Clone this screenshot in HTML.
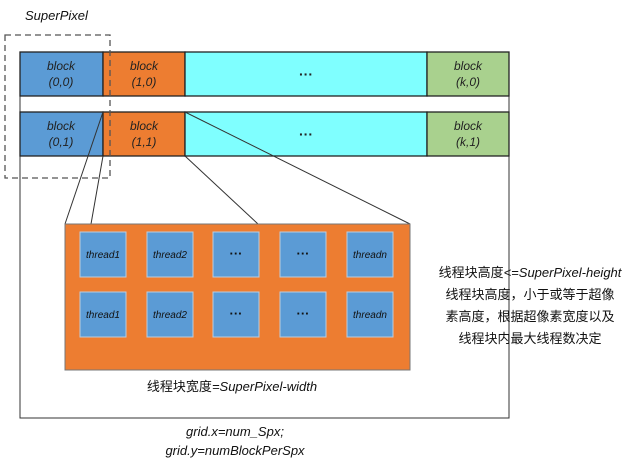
<!DOCTYPE html><html><head><style>body{margin:0;background:#fff}svg text{font-family:"Liberation Sans","Noto Sans CJK SC",sans-serif;font-style:italic}.d{font-weight:bold;font-style:normal}.n{font-style:normal}</style></head><body>
<svg width="643" height="468" xmlns="http://www.w3.org/2000/svg">
<rect x="20" y="52" width="489" height="366" fill="#fff" stroke="#333"/>
<g stroke="#222" stroke-width="1.3">
<rect x="20" y="52" width="83" height="44" fill="#5b9bd5"/><rect x="103" y="52" width="82" height="44" fill="#ed7d31"/><rect x="185" y="52" width="242" height="44" fill="#7fffff"/><rect x="427" y="52" width="82" height="44" fill="#a9d18e"/>
<rect x="20" y="112" width="83" height="44" fill="#5b9bd5"/><rect x="103" y="112" width="82" height="44" fill="#ed7d31"/><rect x="185" y="112" width="242" height="44" fill="#7fffff"/><rect x="427" y="112" width="82" height="44" fill="#a9d18e"/>
</g>
<rect x="5" y="35" width="105" height="143" fill="none" stroke="#555" stroke-width="1.3" stroke-dasharray="6,4"/>
<g stroke="#333" stroke-width="1"><line x1="103" y1="112" x2="65" y2="224"/><line x1="103" y1="156" x2="91" y2="224"/><line x1="185" y1="112" x2="410" y2="224"/><line x1="185" y1="156" x2="258" y2="224"/></g>
<rect x="65" y="224" width="345" height="146" fill="#ed7d31" stroke="#777"/>
<g fill="#5b9bd5" stroke="#bcd" stroke-width="1">
<rect x="80" y="232" width="46" height="45"/><rect x="147" y="232" width="46" height="45"/><rect x="213" y="232" width="46" height="45"/><rect x="280" y="232" width="46" height="45"/><rect x="347" y="232" width="46" height="45"/>
<rect x="80" y="292" width="46" height="45"/><rect x="147" y="292" width="46" height="45"/><rect x="213" y="292" width="46" height="45"/><rect x="280" y="292" width="46" height="45"/><rect x="347" y="292" width="46" height="45"/>
</g>
<g font-size="10" text-anchor="middle" fill="#111">
<text x="103" y="258">thread1</text><text x="170" y="258">thread2</text><text x="236" y="258" class="d" font-size="13">···</text><text x="303" y="258" class="d" font-size="13">···</text><text x="370" y="258">threadn</text>
<text x="103" y="318">thread1</text><text x="170" y="318">thread2</text><text x="236" y="318" class="d" font-size="13">···</text><text x="303" y="318" class="d" font-size="13">···</text><text x="370" y="318">threadn</text>
</g>
<g font-size="12" text-anchor="middle" fill="#222">
<text x="61" y="70">block</text><text x="61" y="86">(0,0)</text><text x="144" y="70">block</text><text x="144" y="86">(1,0)</text><text x="306" y="79" class="d" font-size="14">···</text><text x="468" y="70">block</text><text x="468" y="86">(k,0)</text>
<text x="61" y="130">block</text><text x="61" y="146">(0,1)</text><text x="144" y="130">block</text><text x="144" y="146">(1,1)</text><text x="306" y="139" class="d" font-size="14">···</text><text x="468" y="130">block</text><text x="468" y="146">(k,1)</text>
</g>
<text x="25" y="20" font-size="13" fill="#111">SuperPixel</text>
<g font-size="13" fill="#111" text-anchor="middle">
<text x="232" y="391"><tspan class="n">线程块宽度</tspan>=SuperPixel-width</text>
<text x="235" y="436">grid.x=num_Spx;</text>
<text x="235" y="455">grid.y=numBlockPerSpx</text>
<text x="530" y="277"><tspan class="n">线程块高度</tspan>&lt;=SuperPixel-height</text>
<text x="530" y="299" class="n">线程块高度，小于或等于超像</text>
<text x="530" y="321" class="n">素高度，根据超像素宽度以及</text>
<text x="530" y="343" class="n">线程块内最大线程数决定</text>
</g>
</svg></body></html>
